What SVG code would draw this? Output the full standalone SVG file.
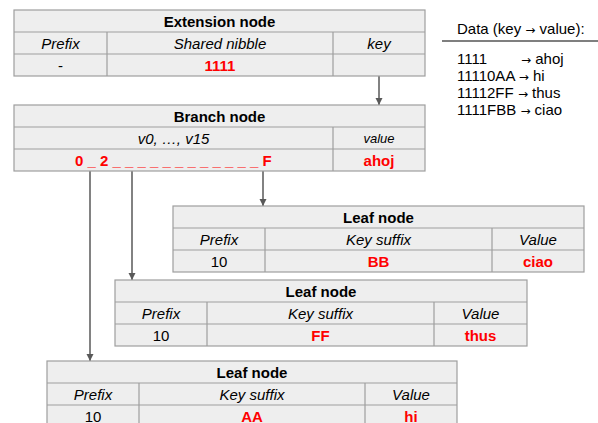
<svg xmlns="http://www.w3.org/2000/svg" width="598" height="423" viewBox="0 0 598 423">
<defs>
<style>
.c{fill:#eeeeee;stroke:#9e9e9e;stroke-width:1.2}
.d{stroke:#9e9e9e;stroke-width:1.2}
text{font-family:"Liberation Sans",Arial,sans-serif;font-size:15px;fill:#000;text-anchor:middle}
.t{font-weight:bold}
.i{font-style:italic}
.r{fill:#ff0000;font-weight:bold}
.s{font-size:13px}
.l{text-anchor:start;font-size:15px}
.ar{font-size:12px;font-family:"DejaVu Sans",sans-serif}
.a{stroke:#595959;stroke-width:1.5;fill:none;marker-end:url(#ah)}
</style>
<marker id="ah" viewBox="0 0 10 10" refX="10" refY="5" markerWidth="5" markerHeight="5" orient="auto" markerUnits="strokeWidth">
<path d="M0,0 L10,5 L0,10 z" fill="#595959"/>
</marker>
</defs>
<rect width="598" height="423" fill="#ffffff"/>
<g id="connectors">
<line class="a" x1="379" y1="76" x2="379" y2="105"/>
<line class="a" x1="263" y1="171" x2="263" y2="206"/>
<line class="a" x1="132" y1="171" x2="132" y2="280"/>
<line class="a" x1="90" y1="171" x2="90" y2="361"/>
</g>
<g id="extension">
<rect class="c" x="14" y="10" width="411" height="66"/>
<line class="d" x1="14" y1="32" x2="425" y2="32"/>
<line class="d" x1="14" y1="54" x2="425" y2="54"/>
<line class="d" x1="107" y1="32" x2="107" y2="76"/>
<line class="d" x1="333" y1="32" x2="333" y2="76"/>
<text class="t" x="219.5" y="26.5">Extension node</text>
<text class="i" x="60.5" y="48.5">Prefix</text>
<text class="i" x="220" y="48.5">Shared nibble</text>
<text class="i" x="379" y="48.5">key</text>
<text x="60.5" y="70.5">-</text>
<text class="r" x="220" y="70.5">1111</text>
</g>
<g id="branch">
<rect class="c" x="14" y="105" width="411" height="66"/>
<line class="d" x1="14" y1="127" x2="425" y2="127"/>
<line class="d" x1="14" y1="149" x2="425" y2="149"/>
<line class="d" x1="333" y1="127" x2="333" y2="171"/>
<text class="t" x="219.5" y="121.5">Branch node</text>
<text class="i" x="173.5" y="143.5">v0, …, v15</text>
<text class="i s" x="379" y="142.5">value</text>
<text class="r" x="173.3" y="165.5">0 _ 2 _ _ _ _ _ _ _ _ _ _ _ _ F</text>
<text class="r" x="379" y="165.5">ahoj</text>
</g>
<g id="leafBB">
<rect class="c" x="173" y="206" width="411" height="66"/>
<line class="d" x1="173" y1="228" x2="584" y2="228"/>
<line class="d" x1="173" y1="250" x2="584" y2="250"/>
<line class="d" x1="265" y1="228" x2="265" y2="272"/>
<line class="d" x1="492" y1="228" x2="492" y2="272"/>
<text class="t" x="378.5" y="222.5">Leaf node</text>
<text class="i" x="219" y="244.5">Prefix</text>
<text class="i" x="378.5" y="244.5">Key suffix</text>
<text class="i" x="538" y="244.5">Value</text>
<text x="219" y="266.5">10</text>
<text class="r" x="378.5" y="266.5">BB</text>
<text class="r" x="538" y="266.5">ciao</text>
</g>
<g id="leafFF">
<rect class="c" x="115" y="280" width="412" height="66"/>
<line class="d" x1="115" y1="302" x2="527" y2="302"/>
<line class="d" x1="115" y1="324" x2="527" y2="324"/>
<line class="d" x1="207" y1="302" x2="207" y2="346"/>
<line class="d" x1="434" y1="302" x2="434" y2="346"/>
<text class="t" x="321" y="296.5">Leaf node</text>
<text class="i" x="161" y="318.5">Prefix</text>
<text class="i" x="320.5" y="318.5">Key suffix</text>
<text class="i" x="480.5" y="318.5">Value</text>
<text x="161" y="340.5">10</text>
<text class="r" x="320.5" y="340.5">FF</text>
<text class="r" x="480.5" y="340.5">thus</text>
</g>
<g id="leafAA">
<rect class="c" x="47" y="361" width="410" height="66"/>
<line class="d" x1="47" y1="383" x2="457" y2="383"/>
<line class="d" x1="47" y1="405" x2="457" y2="405"/>
<line class="d" x1="139" y1="383" x2="139" y2="427"/>
<line class="d" x1="365" y1="383" x2="365" y2="427"/>
<text class="t" x="252" y="377.5">Leaf node</text>
<text class="i" x="93" y="399.5">Prefix</text>
<text class="i" x="252" y="399.5">Key suffix</text>
<text class="i" x="411" y="399.5">Value</text>
<text x="93" y="421.5">10</text>
<text class="r" x="252" y="421.5">AA</text>
<text class="r" x="411" y="421.5">hi</text>
</g>
<g id="data">
<text class="l" x="457" y="34">Data (key <tspan class="ar">→</tspan> value):</text>
<line x1="442" y1="41" x2="598" y2="41" stroke="#555555" stroke-width="1.5"/>
<text class="l" x="457" y="64">1111<tspan x="521" class="ar">→</tspan> ahoj</text>
<text class="l" x="457" y="81">11110AA <tspan class="ar">→</tspan> hi</text>
<text class="l" x="457" y="98">11112FF <tspan class="ar">→</tspan> thus</text>
<text class="l" x="457" y="114.5">1111FBB <tspan class="ar">→</tspan> ciao</text>
</g>
</svg>
